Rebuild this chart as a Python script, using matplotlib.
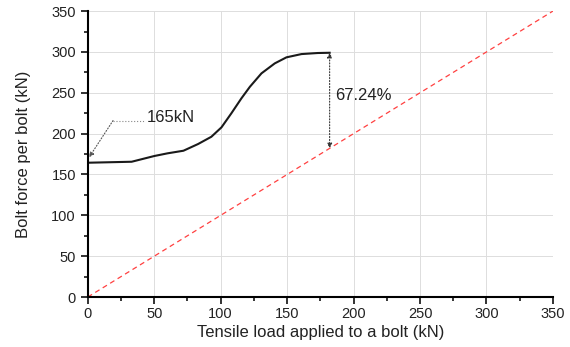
import matplotlib.pyplot as plt
from matplotlib.ticker import MultipleLocator

plt.rcParams['font.family'] = ['Liberation Sans', 'DejaVu Sans']

# datos
carga = [0, 33, 50, 60, 72, 83, 93, 100.6, 108, 115.6, 122, 130.7, 140.7, 149.5, 160.8, 173, 182]
fuerza = [164.4, 165.6, 172.6, 175.9, 179.1, 187.3, 196.2, 207.7, 224.8, 243.2, 257.4, 273.8,
          286, 293.4, 297.4, 298.7, 299]
lineal = [0, 350]

fig = plt.figure(figsize=(5.7, 3.47), dpi=100)
ax = fig.add_axes([0.154, 0.144, 0.816, 0.824])

ax.plot(lineal, lineal, color='#ff4040', linestyle=(0, (4, 3)), linewidth=0.9)
ax.plot(carga, fuerza, color='#1a1a1a', linewidth=1.5, solid_joinstyle='round')

# flecha doble entre la curva y la recta
ax.annotate('', xy=(carga[-1], carga[-1]), xytext=(carga[-1], fuerza[-1]),
            arrowprops=dict(arrowstyle='<|-|>', color='#333333', linestyle=':',
                            linewidth=0.8, mutation_scale=7, shrinkA=0, shrinkB=0))
ax.text(186, 247, '67.24%', fontsize=12, color='#222222', va='center')

# etiqueta de 165kN
ax.plot([19, 42], [216, 216], color='#888888', linestyle=':', linewidth=0.8)
ax.annotate('', xy=(1, 171), xytext=(19, 216),
            arrowprops=dict(arrowstyle='-|>', color='#555555', linestyle=':',
                            linewidth=0.8, mutation_scale=7, shrinkA=0, shrinkB=0))
ax.text(44, 220, '165kN', fontsize=12, color='#222222', va='center')

ax.set_xlim(0, 350)
ax.set_ylim(0, 350)
ax.xaxis.set_major_locator(MultipleLocator(50))
ax.yaxis.set_major_locator(MultipleLocator(50))
ax.xaxis.set_minor_locator(MultipleLocator(25))
ax.yaxis.set_minor_locator(MultipleLocator(25))
ax.grid(True, which='major', color='#dddddd', linewidth=0.7, linestyle='-')
ax.set_axisbelow(True)

ax.spines['top'].set_visible(False)
ax.spines['right'].set_visible(False)
ax.spines['left'].set_linewidth(1.5)
ax.spines['bottom'].set_linewidth(1.5)
ax.tick_params(which='major', direction='out', length=5, width=1.3, labelsize=10.5, colors='#222222')
ax.tick_params(axis='x', which='major', pad=2)
ax.tick_params(which='minor', direction='out', length=3, width=1.1)

ax.set_xlabel('Tensile load applied to a bolt (kN)', fontsize=12, color='#222222', labelpad=3)
ax.set_ylabel('Bolt force per bolt (kN)', fontsize=12, color='#222222', labelpad=15)

fig.savefig('out.png')
